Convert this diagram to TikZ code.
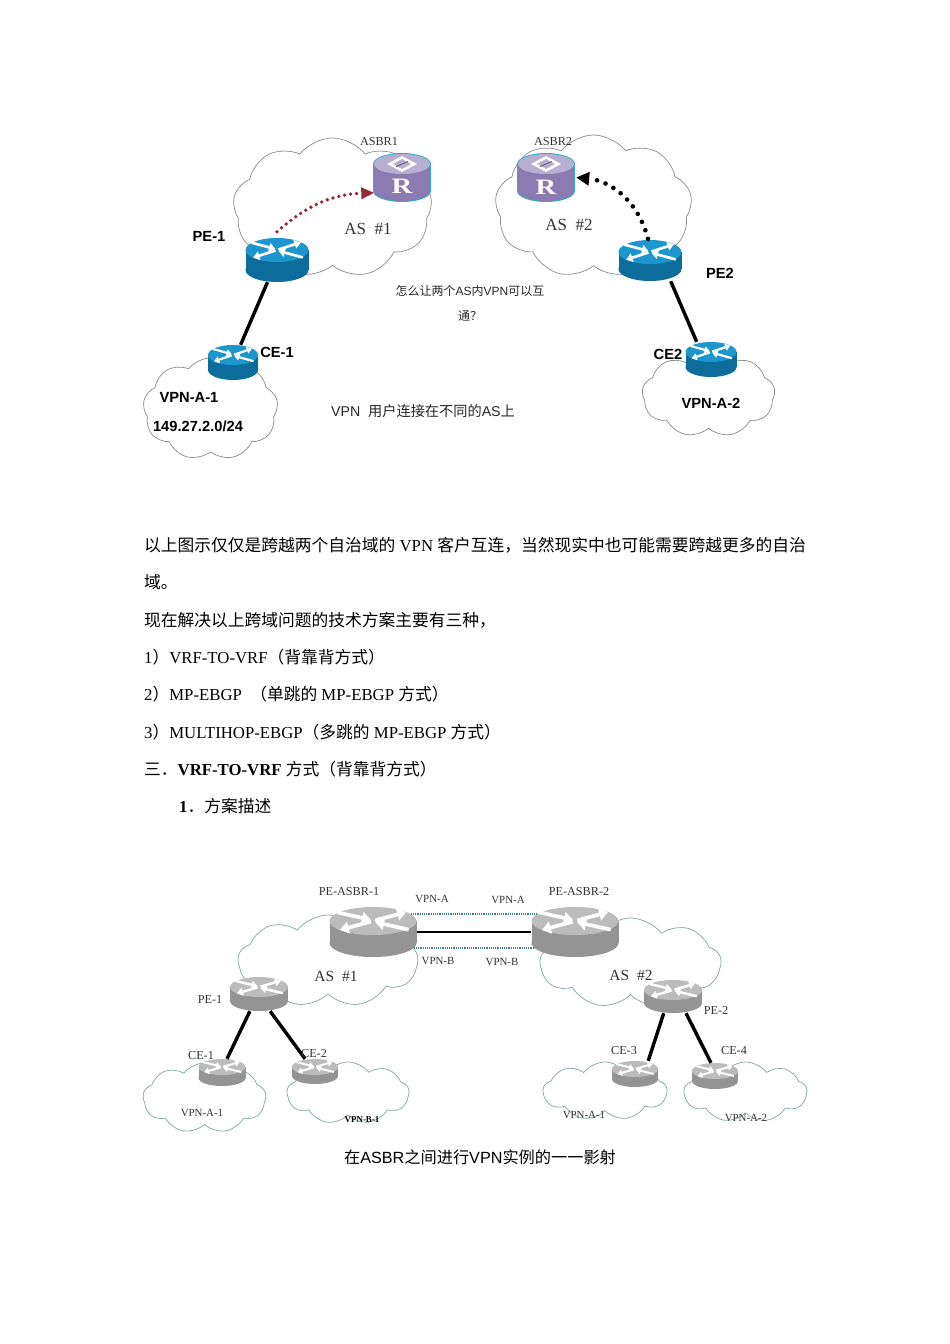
\documentclass[tikz,border=0pt]{standalone}
\usepackage{fontspec}
\setmainfont{Liberation Serif}
\setsansfont{Liberation Sans}
\newfontfamily\cjk{Noto Sans CJK SC}
\newfontfamily\letterfont[FakeStretch=1.3]{Liberation Serif}
\usetikzlibrary{arrows.meta,shapes.symbols}
\definecolor{blueTop}{RGB}{28,150,205}
\definecolor{blueSide}{RGB}{12,108,155}
\definecolor{grayTop}{RGB}{188,188,188}
\definecolor{graySide}{RGB}{148,148,148}
\definecolor{asbrTop}{RGB}{184,174,208}
\definecolor{asbrSide}{RGB}{138,124,176}
\definecolor{asbrRim}{RGB}{50,170,205}
\definecolor{cloudGray}{RGB}{135,140,140}
\definecolor{cloudTeal}{RGB}{130,165,165}
\definecolor{dotRed}{RGB}{150,40,60}
\definecolor{vrfTeal}{RGB}{70,125,135}
\newcommand{\routerbody}[5]{
	\fill[#4] (-#1,0) rectangle (#1,#3);
	\fill[#4] (0,#3) ellipse [x radius=#1,y radius=#2];
	\fill[#5] (0,0) ellipse [x radius=#1,y radius=#2];
}
\newcommand{\routerarrows}[2]{
	\begin{scope}[xscale=#1,yscale=#2]
		\draw[routerarrow=0.085*#1] (-0.82,-0.62) -- (-0.05,-0.08);
		\draw[routerarrow=0.085*#1] (0.05,-0.04) -- (0.76,-0.64);
		\draw[routerarrow=0.085*#1] (-0.05,0.04) -- (-0.76,0.64);
		\draw[routerarrow=0.085*#1] (0.82,0.62) -- (0.05,0.08);
	\end{scope}
}
\tikzset{
	routerarrow/.style={white,line width=#1,-{Triangle[length=0pt 2.4 0,width=0pt 3.2 0]}},
	pics/bluerouter/.style n args={3}{code={
		\routerbody{#1}{#2}{#3}{blueSide}{blueTop}
		\routerarrows{#1}{#2}
	}},
	pics/grayrouter/.style n args={3}{code={
		\routerbody{#1}{#2}{#3}{graySide}{grayTop}
		\routerarrows{#1}{#2}
	}},
	pics/asbrrouter/.style={code={
		\routerbody{29}{11}{27}{asbrRim}{asbrRim}
		\routerbody{28}{10}{27}{asbrSide}{asbrTop}
		\fill[white] (-15,0) -- (0,-8) -- (15,0) -- (0,8) -- cycle;
		\fill[asbrTop] (-9,0) -- (0,-5) -- (9,0) -- (0,5) -- cycle;
		\draw[black!70,line width=0.7] (-6,2.5) -- (6,-2.5);
	}}
}
\begin{document}
\begin{tikzpicture}[x=1pt,y=-1pt,
	netcloud/.style={shape=cloud,cloud puffs=9,cloud puff arc=105,aspect=1.5,cloud ignores aspect,
		inner sep=0pt,fill=white,line width=0.7pt},
	upcloud/.style={netcloud,draw=cloudGray},
	lowcloud/.style={netcloud,draw=cloudTeal},
	routerspot/.style={shape=rectangle,inner sep=0pt},
	thicklink/.style={line width=3.4pt,black},
	backbone/.style={line width=2.4pt,black},
	vrflink/.style={line width=2pt,vrfTeal,dash pattern=on 1.2pt off 1pt},
	letterlabel/.style={font=\letterfont\bfseries\fontsize{22}{22}\selectfont,text=white,inner sep=0pt},
	boldlabel/.style={font=\sffamily\bfseries\fontsize{14.7}{17}\selectfont},
	thinlabel/.style={font=\fontsize{12.2}{15}\selectfont,text=black!80},
	tinylabel/.style={font=\fontsize{10.9}{13}\selectfont,text=black!80},
	bodytext/.style={anchor=west,inner sep=0pt,font=\fontsize{16.75}{20}\selectfont}
	]
	\useasboundingbox (0,0) rectangle (950,1344);
	\fill[white] (0,0) rectangle (950,1344);

	% first figure: clouds, routers, links
	\node[upcloud,minimum width=199,minimum height=140] (cloudasa) at (332.5,208) {};
	\node[upcloud,minimum width=197,minimum height=143] (cloudasb) at (593.5,206.5) {};
	\node[upcloud,minimum width=135,minimum height=102] (cloudvpna) at (210.5,409) {};
	\node[upcloud,minimum width=133,minimum height=85] (cloudvpnb) at (708.5,394.5) {};

	\pic at (277,250) {bluerouter={31.5}{12}{20}};
	\node[routerspot,minimum width=63,minimum height=44] (pea) at (277,260) {};
	\pic at (233,355) {bluerouter={25}{10}{15}};
	\node[routerspot,minimum width=50,minimum height=35] (cea) at (233,362.5) {};
	\pic at (650,252) {bluerouter={31.5}{12}{17}};
	\node[routerspot,minimum width=63,minimum height=41] (peb) at (650,260.5) {};
	\pic at (711,352) {bluerouter={25.5}{10}{15}};
	\node[routerspot,minimum width=51,minimum height=35] (ceb) at (711,359.5) {};
	\pic at (402,164) {asbrrouter};
	\node[routerspot,minimum width=55,minimum height=49] (asbra) at (402,177.5) {};
	\pic at (546,164) {asbrrouter};
	\node[routerspot,minimum width=60,minimum height=51] (asbrb) at (546,177.5) {};
	\node[letterlabel] (letterra) at (402,186) {R};
	\node[letterlabel] (letterrb) at (546,187) {R};

	\draw[thicklink] (pea) -- (cea);
	\draw[thicklink] (peb.-45) -- (ceb.129);
	\draw[dotRed,line width=3.8pt,line cap=round,dash pattern=on 0pt off 6pt,
		-{Triangle[length=13pt,width=11pt]}] (pea.north) ++(0,-6) to[bend left=20] (asbra.209);
	\draw[black,line width=4.6pt,line cap=round,dash pattern=on 0pt off 9pt,
		-{Triangle[length=13pt,width=13pt]}] (peb.north) ++(-2,-1) to[bend right=35] (asbrb.east);

	\node[thinlabel] (lblasbra) at (379,141.5) {ASBR1};
	\node[thinlabel] (lblasbrb) at (553,141.5) {ASBR2};
	\node[thinlabel,font=\fontsize{17}{19}\selectfont] (lblasa) at (368,229) {AS~~\#1};
	\node[thinlabel,font=\fontsize{17}{19}\selectfont] (lblasb) at (569,225) {AS~~\#2};
	\node[boldlabel] (lblpea) at (209,236) {PE-1};
	\node[boldlabel] (lblpeb) at (720,273) {PE2};
	\node[boldlabel] (lblcea) at (277,352) {CE-1};
	\node[boldlabel] (lblceb) at (668,354) {CE2};
	\node[boldlabel] (lblvpna) at (189,397) {VPN-A-1};
	\node[boldlabel] (lblnet) at (198,426) {149.27.2.0/24};
	\node[boldlabel] (lblvpnb) at (711,403) {VPN-A-2};
	\node[font=\sffamily\fontsize{12}{14}\selectfont,text=black!85] (lblaska) at (470,291) {{\cjk 怎么让两个}AS{\cjk 内}VPN{\cjk 可以互}};
	\node[font=\fontsize{12}{14}\selectfont,text=black!85] (lblaskb) at (470,316) {{\cjk 通？}};
	\node[font=\sffamily\fontsize{14.2}{17}\selectfont,text=black!85] (lblusers) at (423,411) {VPN~~{\cjk 用户连接在不同的}AS{\cjk 上}};

	% text between the two figures
	\node[bodytext] (linea) at (144,545) {{\cjk 以上图示仅仅是跨越两个自治域的} VPN {\cjk 客户互连，当然现实中也可能需要跨越更多的自治}};
	\node[bodytext] (lineb) at (144,582) {{\cjk 域。}};
	\node[bodytext] (linec) at (144,620) {{\cjk 现在解决以上跨域问题的技术方案主要有三种，}};
	\node[bodytext] (lined) at (144,657) {1{\cjk ）}VRF-TO-VRF{\cjk （背靠背方式）}};
	\node[bodytext] (linee) at (144,694) {2{\cjk ）}MP-EBGP~~{\cjk （单跳的} MP-EBGP {\cjk 方式）}};
	\node[bodytext] (linef) at (144,732) {3{\cjk ）}MULTIHOP-EBGP{\cjk （多跳的} MP-EBGP {\cjk 方式）}};
	\node[bodytext] (lineg) at (144,769) {{\cjk 三．}\textbf{VRF-TO-VRF} {\cjk 方式（背靠背方式）}};
	\node[bodytext] (lineh) at (179,806) {\textbf{1}{\cjk ．方案描述}};

	% second figure
	\node[lowcloud,minimum width=180,minimum height=92] (cloudasc) at (328,961) {};
	\node[lowcloud,minimum width=181,minimum height=90] (cloudasd) at (630.5,963) {};
	\node[lowcloud,minimum width=123,minimum height=70] (cloudca) at (204.5,1098) {};
	\node[lowcloud,minimum width=122,minimum height=62] (cloudcb) at (348,1093) {};
	\node[lowcloud,minimum width=124,minimum height=58] (cloudcc) at (605,1091) {};
	\node[lowcloud,minimum width=123,minimum height=60] (cloudcd) at (745.5,1092) {};

	\pic at (373,921) {grayrouter={43.5}{14}{22}};
	\node[routerspot,minimum width=87,minimum height=50] (asbrc) at (373,932) {};
	\pic at (575,921) {grayrouter={43.5}{14}{22}};
	\node[routerspot,minimum width=87,minimum height=50] (asbrd) at (575,932) {};
	\pic at (259,987) {grayrouter={29}{10}{14}};
	\node[routerspot,minimum width=58,minimum height=34] (pec) at (259,994) {};
	\pic at (673,990) {grayrouter={29}{10}{13}};
	\node[routerspot,minimum width=58,minimum height=33] (ped) at (673,996.5) {};
	\pic at (222,1067) {grayrouter={23.5}{8}{11}};
	\node[routerspot,minimum width=47,minimum height=27] (cec) at (222,1072.5) {};
	\pic at (315,1067) {grayrouter={23}{8}{9}};
	\node[routerspot,minimum width=46,minimum height=25] (ced) at (315,1071.5) {};
	\pic at (635,1069) {grayrouter={23}{8}{10}};
	\node[routerspot,minimum width=46,minimum height=26] (cee) at (635,1074) {};
	\pic at (715,1071) {grayrouter={23}{8}{10}};
	\node[routerspot,minimum width=46,minimum height=26] (cef) at (715,1076) {};

	\draw[backbone] (asbrc) -- (asbrd);
	\draw[vrflink,shorten <=-6pt,shorten >=-6pt] (asbrc.22) -- (asbrd.158);
	\draw[vrflink,shorten <=-3pt,shorten >=-3pt] (asbrc.-20) -- (asbrd.-160);
	\draw[thicklink] (pec.-118) -- (cec.70);
	\draw[thicklink] (pec.-57) -- (ced.128);
	\draw[thicklink] (ped.-119) -- (cee.45);
	\draw[thicklink] (ped.-52) -- (cef.107);

	\node[thinlabel] (lblasbrc) at (349,891.5) {PE-ASBR-1};
	\node[thinlabel] (lblasbrd) at (579,891.5) {PE-ASBR-2};
	\node[tinylabel] (lblvrfa) at (432,899) {VPN-A};
	\node[tinylabel] (lblvrfb) at (508,900) {VPN-A};
	\node[tinylabel] (lblvrfc) at (438,961) {VPN-B};
	\node[tinylabel] (lblvrfd) at (502,962) {VPN-B};
	\node[thinlabel,font=\fontsize{15.5}{18}\selectfont] (lblasc) at (336,976) {AS~~\#1};
	\node[thinlabel,font=\fontsize{15.5}{18}\selectfont] (lblasd) at (631,975) {AS~~\#2};
	\node[thinlabel] (lblpec) at (210,999.5) {PE-1};
	\node[thinlabel] (lblped) at (716,1010.5) {PE-2};
	\node[thinlabel] (lblcec) at (201,1055.5) {CE-1};
	\node[thinlabel] (lblced) at (314,1053.5) {CE-2};
	\node[thinlabel] (lblcee) at (624,1050.5) {CE-3};
	\node[thinlabel] (lblcef) at (734,1050.5) {CE-4};
	\node[tinylabel] (lblca) at (202,1112.5) {VPN-A-1};
	\node[font=\bfseries\fontsize{9}{10}\selectfont] (lblcb) at (362,1119.5) {VPN-B-1};
	\node[tinylabel] (lblcc) at (584,1114.5) {VPN-A-1};
	\node[tinylabel] (lblcd) at (746,1117.5) {VPN-A-2};
	\node[font=\sffamily\fontsize{16.2}{20}\selectfont] (lblcaption) at (480,1157) {{\cjk 在}ASBR{\cjk 之间进行}VPN{\cjk 实例的一一影射}};
\end{tikzpicture}
\end{document}
